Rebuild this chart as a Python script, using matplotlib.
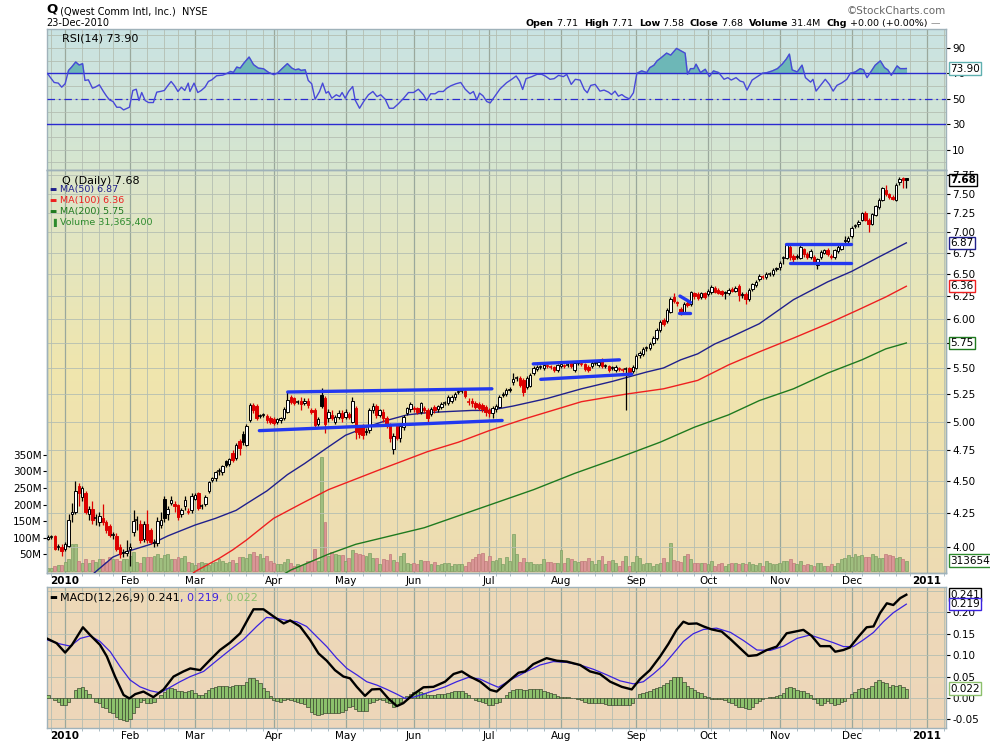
import numpy as np
import pandas as pd
import matplotlib
matplotlib.use("Agg")
import matplotlib.pyplot as plt
from matplotlib.ticker import NullLocator, FixedLocator

plt.rcParams['font.family'] = ['DejaVu Sans']

# ---------------- data ----------------
holidays = ["2009-12-25", "2010-01-01", "2010-01-18", "2010-02-15", "2010-04-02",
            "2010-05-31", "2010-07-05", "2010-09-06", "2010-11-25", "2010-12-24"]

opens = [4.06, 4.07, 4.08, 4.00, 4.00,
         3.99, 4.01, 4.24, 4.26, 4.46, 4.37, 4.40, 4.24, 4.28, 4.21, 4.18, 4.21, 4.18, 4.15, 4.09, 4.08, 4.00, 3.96, 3.96,
         3.99, 4.11, 4.20, 4.17, 4.06, 4.17, 4.12, 4.03, 4.03, 4.16, 4.36, 4.24, 4.33, 4.32, 4.31, 4.24, 4.30, 4.26, 4.27,
         4.36, 4.40, 4.30, 4.32, 4.42, 4.51, 4.52, 4.58, 4.57, 4.66, 4.64, 4.73, 4.69, 4.83, 4.89, 4.80, 5.01, 5.15, 5.14, 5.05, 5.06, 5.05, 5.03,
         5.02, 5.00, 5.01, 5.03, 5.09, 5.22, 5.21, 5.18, 5.19, 5.17, 5.19, 5.10, 5.10, 4.98, 5.24, 5.21, 5.03, 5.06, 5.00, 5.04, 5.08,
         5.04, 5.07, 5.00, 5.12, 4.95, 4.96, 4.91, 4.93, 5.10, 5.14, 5.06, 5.09, 5.03, 4.97, 4.76, 4.96, 4.86, 4.95, 5.08, 5.11,
         5.12, 5.12, 5.09, 5.12, 5.10, 5.07, 5.13, 5.11, 5.13, 5.17, 5.17, 5.19, 5.22, 5.27, 5.28, 5.28, 5.18, 5.19, 5.17, 5.16, 5.15, 5.13,
         5.10, 5.08, 5.11, 5.13, 5.24, 5.25, 5.29, 5.36, 5.40, 5.40, 5.38, 5.32, 5.33, 5.45, 5.49, 5.51, 5.50, 5.52, 5.51, 5.51, 5.48,
         5.52, 5.52, 5.53, 5.55, 5.48, 5.55, 5.54, 5.54, 5.51, 5.52, 5.55, 5.53, 5.58, 5.52, 5.52, 5.50, 5.48, 5.49, 5.48, 5.49, 5.50, 5.47,
         5.50, 5.63, 5.64, 5.70, 5.70, 5.75, 5.80, 5.88, 5.99, 5.98, 6.08, 6.24, 6.18, 6.11, 6.07, 6.17, 6.16, 6.28, 6.27, 6.24, 6.28,
         6.27, 6.29, 6.34, 6.32, 6.31, 6.29, 6.28, 6.33, 6.31, 6.36, 6.26, 6.27, 6.22, 6.33, 6.37, 6.44, 6.47, 6.46, 6.50, 6.50, 6.56,
         6.58, 6.69, 6.69, 6.82, 6.71, 6.70, 6.69, 6.79, 6.74, 6.70, 6.70, 6.60, 6.70, 6.75, 6.78, 6.71, 6.70, 6.77, 6.80, 6.89, 6.89,
         6.95, 7.08, 7.10, 7.16, 7.25, 7.16, 7.11, 7.22, 7.32, 7.42, 7.55, 7.49, 7.46, 7.41, 7.65, 7.71, 7.71]
highs = [4.09, 4.09, 4.09, 4.02, 4.02,
         4.04, 4.24, 4.33, 4.50, 4.48, 4.46, 4.42, 4.30, 4.34, 4.24, 4.26, 4.32, 4.20, 4.17, 4.11, 4.10, 4.02, 3.99, 4.05,
         4.03, 4.27, 4.23, 4.20, 4.19, 4.27, 4.14, 4.06, 4.22, 4.26, 4.38, 4.30, 4.38, 4.34, 4.32, 4.29, 4.38, 4.29, 4.40,
         4.40, 4.41, 4.32, 4.39, 4.50, 4.53, 4.58, 4.60, 4.63, 4.67, 4.69, 4.75, 4.81, 4.85, 4.92, 4.98, 5.17, 5.17, 5.16, 5.07, 5.08, 5.07, 5.05,
         5.04, 5.03, 5.04, 5.13, 5.27, 5.24, 5.22, 5.20, 5.22, 5.21, 5.21, 5.12, 5.12, 5.04, 5.31, 5.23, 5.11, 5.10, 5.06, 5.10, 5.10,
         5.11, 5.09, 5.22, 5.14, 4.97, 4.98, 4.94, 5.12, 5.17, 5.16, 5.11, 5.11, 5.05, 4.99, 4.90, 4.98, 4.98, 5.06, 5.13, 5.18,
         5.14, 5.13, 5.18, 5.14, 5.12, 5.13, 5.15, 5.15, 5.18, 5.19, 5.24, 5.24, 5.27, 5.29, 5.31, 5.30, 5.21, 5.21, 5.19, 5.18, 5.17, 5.15,
         5.12, 5.14, 5.16, 5.24, 5.27, 5.31, 5.32, 5.45, 5.42, 5.42, 5.40, 5.42, 5.45, 5.52, 5.53, 5.53, 5.55, 5.54, 5.53, 5.52, 5.54,
         5.56, 5.54, 5.55, 5.57, 5.57, 5.57, 5.56, 5.55, 5.53, 5.57, 5.57, 5.58, 5.60, 5.54, 5.53, 5.52, 5.53, 5.51, 5.50, 5.51, 5.51, 5.53,
         5.64, 5.67, 5.71, 5.72, 5.76, 5.82, 5.90, 5.99, 6.01, 6.12, 6.24, 6.28, 6.20, 6.13, 6.18, 6.19, 6.31, 6.30, 6.29, 6.30, 6.30,
         6.33, 6.37, 6.36, 6.34, 6.32, 6.31, 6.34, 6.35, 6.36, 6.38, 6.29, 6.29, 6.34, 6.40, 6.43, 6.50, 6.49, 6.52, 6.52, 6.57, 6.58,
         6.65, 6.71, 6.87, 6.84, 6.73, 6.73, 6.84, 6.81, 6.76, 6.79, 6.72, 6.69, 6.78, 6.80, 6.81, 6.73, 6.80, 6.84, 6.87, 6.96, 6.95,
         7.08, 7.10, 7.15, 7.26, 7.27, 7.18, 7.25, 7.35, 7.44, 7.59, 7.62, 7.51, 7.48, 7.64, 7.72, 7.72, 7.71]
lows = [4.05, 4.06, 3.98, 3.98, 3.94,
        3.97, 4.00, 4.18, 4.24, 4.30, 4.34, 4.24, 4.20, 4.17, 4.16, 4.15, 4.16, 4.10, 4.07, 4.06, 3.97, 3.92, 3.93, 3.94,
        3.87, 4.08, 4.12, 4.03, 4.04, 4.03, 4.02, 4.00, 4.01, 4.14, 4.18, 4.20, 4.31, 4.26, 4.20, 4.22, 4.27, 4.24, 4.25,
        4.35, 4.27, 4.28, 4.30, 4.40, 4.49, 4.50, 4.55, 4.55, 4.61, 4.62, 4.65, 4.67, 4.71, 4.80, 4.79, 5.00, 5.08, 5.01, 5.03, 5.04, 4.99, 4.98,
        4.97, 4.98, 4.99, 5.01, 5.08, 5.16, 5.15, 5.16, 5.10, 5.15, 5.12, 5.07, 4.95, 4.96, 5.12, 4.90, 5.00, 5.01, 4.98, 5.02, 5.00,
        5.02, 5.02, 4.99, 4.85, 4.86, 4.85, 4.88, 4.90, 5.08, 5.03, 5.04, 5.00, 4.94, 4.82, 4.72, 4.84, 4.82, 4.93, 5.06, 5.09,
        5.09, 5.07, 5.07, 5.08, 4.98, 5.05, 5.08, 5.09, 5.11, 5.15, 5.15, 5.17, 5.20, 5.25, 5.26, 5.21, 5.15, 5.13, 5.11, 5.10, 5.09, 5.05,
        5.04, 5.03, 5.09, 5.12, 5.22, 5.23, 5.27, 5.34, 5.37, 5.32, 5.23, 5.30, 5.32, 5.43, 5.47, 5.49, 5.48, 5.50, 5.49, 5.46, 5.46,
        5.50, 5.50, 5.51, 5.50, 5.46, 5.53, 5.52, 5.47, 5.46, 5.50, 5.53, 5.51, 5.50, 5.50, 5.46, 5.48, 5.46, 5.47, 5.46, 5.10, 5.44, 5.45,
        5.49, 5.60, 5.62, 5.67, 5.68, 5.73, 5.78, 5.86, 5.93, 5.96, 6.06, 6.17, 6.14, 6.04, 6.05, 6.13, 6.14, 6.22, 6.21, 6.22, 6.22,
        6.25, 6.27, 6.28, 6.27, 6.25, 6.22, 6.26, 6.29, 6.29, 6.20, 6.23, 6.16, 6.20, 6.31, 6.35, 6.42, 6.44, 6.44, 6.48, 6.48, 6.53,
        6.55, 6.62, 6.67, 6.66, 6.64, 6.67, 6.67, 6.70, 6.68, 6.68, 6.62, 6.56, 6.68, 6.73, 6.71, 6.68, 6.68, 6.75, 6.78, 6.86, 6.87,
        6.93, 7.05, 7.07, 7.14, 7.14, 7.01, 7.09, 7.20, 7.30, 7.40, 7.47, 7.43, 7.41, 7.40, 7.62, 7.58, 7.58]
closes = [4.07, 4.07, 3.99, 4.00, 3.97,
          4.02, 4.20, 4.26, 4.42, 4.40, 4.44, 4.26, 4.28, 4.20, 4.21, 4.23, 4.18, 4.12, 4.09, 4.09, 3.99, 3.95, 3.96, 3.97,
          4.00, 4.19, 4.20, 4.05, 4.17, 4.05, 4.04, 4.04, 4.19, 4.20, 4.21, 4.28, 4.35, 4.30, 4.22, 4.27, 4.35, 4.26, 4.38,
          4.39, 4.29, 4.30, 4.37, 4.49, 4.52, 4.57, 4.58, 4.62, 4.63, 4.68, 4.67, 4.80, 4.77, 4.82, 4.96, 5.15, 5.10, 5.03, 5.05, 5.06, 5.01, 5.00,
          4.99, 5.02, 5.03, 5.11, 5.20, 5.18, 5.17, 5.18, 5.16, 5.19, 5.15, 5.09, 4.97, 5.02, 5.14, 4.98, 5.09, 5.03, 5.04, 5.08, 5.03,
          5.09, 5.04, 5.19, 4.91, 4.89, 4.88, 4.92, 5.10, 5.14, 5.06, 5.10, 5.03, 4.96, 4.86, 4.87, 4.86, 4.96, 5.04, 5.12, 5.16,
          5.11, 5.09, 5.17, 5.10, 5.03, 5.11, 5.10, 5.14, 5.16, 5.17, 5.22, 5.22, 5.25, 5.27, 5.28, 5.23, 5.18, 5.17, 5.13, 5.12, 5.11, 5.09,
          5.08, 5.12, 5.14, 5.22, 5.25, 5.29, 5.30, 5.39, 5.40, 5.34, 5.27, 5.40, 5.43, 5.50, 5.51, 5.51, 5.53, 5.52, 5.51, 5.48, 5.53,
          5.54, 5.52, 5.53, 5.52, 5.55, 5.55, 5.54, 5.49, 5.48, 5.55, 5.55, 5.56, 5.52, 5.52, 5.48, 5.50, 5.51, 5.49, 5.48, 5.49, 5.46, 5.51,
          5.62, 5.65, 5.69, 5.70, 5.74, 5.80, 5.88, 5.97, 5.95, 6.10, 6.22, 6.19, 6.17, 6.06, 6.16, 6.15, 6.29, 6.25, 6.23, 6.28, 6.24,
          6.31, 6.35, 6.30, 6.28, 6.27, 6.28, 6.32, 6.31, 6.34, 6.26, 6.27, 6.22, 6.32, 6.39, 6.41, 6.48, 6.47, 6.50, 6.50, 6.55, 6.57,
          6.63, 6.69, 6.84, 6.70, 6.68, 6.71, 6.82, 6.73, 6.70, 6.77, 6.64, 6.67, 6.76, 6.78, 6.73, 6.70, 6.78, 6.82, 6.85, 6.90, 6.93,
          7.06, 7.08, 7.13, 7.24, 7.16, 7.11, 7.23, 7.33, 7.42, 7.57, 7.49, 7.45, 7.43, 7.62, 7.70, 7.68, 7.68]
volume_m = [9.5, 9.5, 14.5, 18.6, 19.6,
            28, 35, 80, 80, 30, 23, 37, 25, 33, 27, 37, 37, 27, 43, 37, 35, 30, 37, 35,
            45, 57, 27, 25, 43, 43, 43, 45, 50, 40, 47, 50, 35, 37, 43, 40, 45, 27, 23,
            19, 23, 27, 23, 17, 23, 27, 35, 30, 23, 27, 33, 25, 43, 43, 40, 50, 57, 45, 50, 40, 45, 30,
            25, 22, 20, 28, 35, 25, 15, 22, 18, 22, 30, 30, 65, 30, 343, 148, 45, 58, 50, 47, 47,
            30, 40, 62, 55, 52, 48, 44, 55, 40, 40, 22, 37, 33, 52, 33, 26, 46, 55, 24, 22,
            24, 20, 34, 31, 31, 20, 28, 19, 20, 24, 24, 16, 20, 22, 20, 16, 28, 35, 42, 50, 55, 30,
            46, 30, 32, 40, 22, 42, 30, 110, 52, 27, 40, 28, 26, 20, 20, 20, 36, 28, 26, 24, 24,
            62, 24, 40, 36, 30, 26, 30, 30, 40, 30, 20, 32, 44, 20, 31, 34, 25, 15, 30, 44, 15, 28,
            44, 40, 22, 25, 25, 14, 22, 25, 40, 28, 83, 34, 30, 28, 45, 52, 35, 25, 25, 25, 23,
            20, 30, 15, 20, 25, 15, 20, 25, 25, 20, 25, 20, 28, 20, 17, 25, 15, 30, 25, 20, 20,
            23, 30, 30, 35, 23, 20, 30, 17, 20, 17, 15, 25, 23, 15, 15, 20, 15, 25, 35, 40, 47,
            43, 50, 45, 47, 43, 43, 50, 45, 40, 40, 50, 47, 45, 40, 43, 37, 31.4]

# moving averages, read at (bar, price)
ma50_pts = [(7, 3.79), (9, 3.83), (14, 3.93), (17, 3.96), (25, 4.02), (30, 4.08), (33, 4.11), (38, 4.16), (44, 4.21),
            (50, 4.27), (53, 4.32), (56, 4.37), (59, 4.42), (65, 4.55), (70, 4.64), (76, 4.76), (82, 4.88), (88, 4.95),
            (94, 5.01), (100, 5.06), (106, 5.08), (112, 5.09), (119, 5.10), (124, 5.10), (131, 5.14), (141, 5.21),
            (151, 5.30), (160, 5.37), (170, 5.46), (175, 5.50), (180, 5.58), (185, 5.64), (190, 5.74), (194, 5.80),
            (203, 5.95), (213, 6.21), (223, 6.41), (230, 6.53), (238, 6.70), (246, 6.87)]
ma100_pts = [(36, 3.79), (38, 3.83), (45, 3.92), (49, 3.98), (53, 4.05), (59, 4.17), (61, 4.21), (69, 4.32), (77, 4.43),
             (92, 4.59), (106, 4.74), (115, 4.82), (124, 4.92), (135, 5.03), (151, 5.18), (164, 5.25), (175, 5.30),
             (185, 5.38), (194, 5.53), (203, 5.66), (213, 5.80), (223, 5.95), (232, 6.10), (240, 6.24), (246, 6.36)]
ma200_pts = [(63, 3.80), (66, 3.84), (77, 3.95), (85, 4.02), (105, 4.14), (124, 4.31), (137, 4.43), (149, 4.56),
             (162, 4.69), (174, 4.82), (184, 4.95), (194, 5.06), (203, 5.19), (213, 5.30), (223, 5.45), (233, 5.58),
             (240, 5.69), (246, 5.75)]

# hand drawn trendlines (bar, price) pairs
trend_lines = [[(65.1, 5.27), (124.8, 5.30)],
               [(56.8, 4.92), (127.8, 5.01)],
               [(136.9, 5.54), (162.1, 5.58)],
               [(139.1, 5.39), (165.7, 5.44)],
               [(179.8, 6.25), (182.9, 6.18)],
               [(179.6, 6.06), (182.6, 6.06)],
               [(210.8, 6.86), (229.7, 6.86)],
               [(212.0, 6.63), (229.7, 6.63)]]

rsi_pts = [(-5.2, 70.0), (-3.2, 62.9), (-2.0, 62.4), (-1.0, 59.2), (0.0, 61.9), (1.0, 72.4), (1.9, 75.0), (3.1, 79.0),
           (4.1, 76.6), (5.1, 77.7), (5.8, 64.5), (6.8, 65.0), (8.0, 58.4), (8.8, 59.2), (10.0, 61.1), (11.2, 55.8),
           (12.2, 51.8), (13.0, 49.2), (14.0, 47.9), (15.1, 43.4), (16.1, 43.4), (17.1, 41.3), (18.8, 43.4),
           (19.8, 56.6), (20.8, 57.6), (21.6, 48.7), (22.4, 55.0), (23.4, 48.7), (24.4, 47.1), (25.8, 47.1),
           (26.8, 55.3), (27.8, 55.8), (29.0, 56.6), (30.0, 60.3), (31.0, 63.7), (32.0, 60.3), (33.0, 55.8),
           (34.0, 59.2), (35.0, 56.6), (36.0, 62.4), (36.5, 55.8), (37.7, 62.4), (38.8, 55.0), (39.8, 56.6),
           (40.9, 59.2), (41.9, 63.7), (42.9, 65.0), (44.3, 68.2), (46.1, 68.7), (47.3, 70.0), (48.4, 71.6),
           (49.2, 70.8), (50.2, 75.0), (51.2, 74.2), (52.3, 78.2), (53.8, 82.9), (55.1, 76.9), (56.5, 74.2),
           (58.0, 73.7), (59.5, 70.8), (61.0, 69.0), (62.1, 70.3), (63.4, 73.7), (65.0, 77.7), (66.3, 74.2),
           (67.3, 72.9), (68.3, 73.5), (69.0, 72.4), (70.2, 72.9), (71.1, 64.5), (72.1, 61.9), (73.1, 49.7),
           (74.4, 55.8), (75.3, 62.4), (76.3, 54.5), (77.0, 55.8), (78.0, 50.5), (79.3, 53.2), (80.3, 51.8),
           (81.0, 55.0), (81.9, 50.5), (82.9, 55.8), (84.1, 59.7), (84.8, 49.2), (86.1, 42.6), (87.3, 47.9),
           (88.7, 53.2), (90.0, 55.8), (91.2, 51.8), (92.3, 53.2), (93.6, 49.7), (94.8, 42.6), (96.0, 42.6),
           (97.4, 46.0), (99.0, 50.5), (100.4, 55.0), (101.9, 55.0), (103.3, 57.6), (104.8, 53.2), (105.7, 48.7),
           (106.9, 54.0), (108.2, 54.0), (109.2, 55.8), (110.6, 55.8), (111.6, 58.4), (112.8, 60.3), (114.3, 61.9),
           (115.7, 62.9), (117.0, 57.6), (118.4, 54.0), (119.4, 55.8), (120.4, 49.2), (121.2, 54.5), (122.2, 52.4),
           (123.3, 47.9), (124.3, 46.8), (127.2, 57.9), (129.1, 62.7), (130.6, 65.4), (131.9, 68.0), (132.9, 64.0),
           (133.8, 57.4), (134.8, 65.9), (136.5, 67.5), (138.0, 69.3), (139.4, 69.3), (140.4, 68.0), (141.8, 65.4),
           (143.0, 65.9), (144.3, 68.5), (145.7, 67.5), (146.7, 69.3), (148.0, 61.4), (149.2, 65.4), (150.6, 64.8),
           (151.8, 57.4), (152.7, 54.8), (153.7, 60.6), (155.0, 61.4), (156.4, 56.1), (157.6, 56.9), (158.9, 55.3),
           (159.8, 53.4), (160.8, 56.1), (161.8, 52.1), (162.8, 53.4), (163.7, 51.6), (165.0, 50.0), (166.2, 54.8),
           (167.2, 70.1), (168.6, 72.0), (170.1, 70.7), (171.0, 74.6), (172.2, 76.5), (173.1, 79.9), (174.4, 82.6),
           (175.9, 86.0), (177.1, 84.4), (178.8, 89.7), (180.0, 87.9), (181.3, 86.0), (182.0, 69.3), (182.9, 73.8),
           (183.9, 73.8), (184.5, 77.3), (185.8, 70.7), (187.2, 73.3), (188.4, 67.5), (189.6, 72.0), (191.1, 70.7),
           (192.7, 65.4), (193.8, 66.7), (194.8, 64.8), (196.2, 66.7), (197.4, 64.0), (198.4, 63.2), (199.4, 56.9),
           (200.9, 64.8), (202.4, 67.5), (203.9, 70.1), (205.3, 70.7), (206.8, 72.0), (208.3, 73.8), (209.7, 77.3),
           (210.9, 81.3), (211.8, 85.2), (212.6, 72.8), (214.1, 71.2), (215.5, 76.5), (216.5, 66.7), (218.0, 63.2),
           (218.7, 65.4), (219.6, 56.1), (220.9, 60.6), (222.3, 65.4), (223.5, 61.4), (224.6, 56.1), (225.7, 60.6),
           (227.2, 62.7), (228.6, 65.4), (229.6, 70.1), (231.1, 71.2), (232.5, 73.8), (233.5, 72.8), (234.5, 66.7),
           (235.8, 72.0), (236.9, 76.5), (238.4, 79.9), (239.6, 74.6), (240.6, 72.8), (241.6, 68.5), (243.3, 75.9),
           (244.2, 73.8), (245.5, 73.8), (246.0, 73.9)]

macd_pts = [(-5.4, 0.139), (-2.5, 0.128), (0.0, 0.106), (2.0, 0.124), (5.2, 0.165), (7.3, 0.147), (10.2, 0.124),
            (12.2, 0.097), (14.6, 0.050), (17.1, 0.007), (18.8, -0.001), (20.5, 0.009), (22.9, 0.015), (25.8, 0.002),
            (28.8, 0.020), (31.7, 0.050), (34.6, 0.062), (36.6, 0.069), (39.5, 0.065), (42.4, 0.089), (45.3, 0.112),
            (48.2, 0.129), (51.2, 0.151), (53.6, 0.186), (55.1, 0.207), (58.0, 0.207), (61.0, 0.190), (63.9, 0.174),
            (65.8, 0.181), (68.7, 0.167), (71.6, 0.136), (74.1, 0.104), (76.5, 0.087), (78.9, 0.065), (81.4, 0.050),
            (83.3, 0.046), (85.3, 0.026), (87.7, 0.005), (89.7, 0.020), (92.1, 0.021), (94.5, -0.001), (97.0, -0.019),
            (98.9, -0.012), (101.9, 0.009), (104.8, 0.025), (107.7, 0.026), (111.1, 0.038), (113.6, 0.056),
            (116.0, 0.062), (118.4, 0.050), (121.4, 0.038), (124.3, 0.019), (126.2, 0.015), (130.1, 0.042),
            (132.6, 0.059), (134.5, 0.062), (136.9, 0.079), (140.8, 0.093), (143.8, 0.087), (146.7, 0.085),
            (150.6, 0.077), (153.5, 0.062), (156.4, 0.056), (159.4, 0.038), (162.8, 0.026), (165.7, 0.020),
            (168.1, 0.044), (171.0, 0.065), (174.0, 0.097), (176.4, 0.126), (178.8, 0.159), (180.8, 0.178),
            (182.3, 0.173), (184.7, 0.174), (186.7, 0.167), (189.1, 0.160), (192.0, 0.155), (194.6, 0.137),
            (197.4, 0.116), (199.8, 0.098), (202.3, 0.100), (205.2, 0.112), (208.1, 0.120), (211.0, 0.151),
            (213.5, 0.155), (215.9, 0.159), (218.3, 0.145), (220.8, 0.121), (223.7, 0.121), (225.2, 0.108),
            (227.6, 0.112), (229.5, 0.118), (232.0, 0.143), (234.4, 0.165), (236.4, 0.167), (238.3, 0.198),
            (240.3, 0.221), (242.2, 0.217), (244.2, 0.233), (246.0, 0.241)]
signal_pts = [(-5.4, 0.136), (-1.4, 0.126), (1.5, 0.121), (4.4, 0.139), (7.3, 0.145), (10.2, 0.132), (13.2, 0.108),
              (16.1, 0.073), (19.0, 0.042), (21.9, 0.026), (24.9, 0.017), (27.8, 0.012), (30.7, 0.025), (33.6, 0.038),
              (36.6, 0.050), (40.5, 0.062), (44.3, 0.087), (48.2, 0.112), (52.1, 0.136), (56.0, 0.167), (58.9, 0.188),
              (61.9, 0.186), (64.8, 0.181), (67.7, 0.178), (70.6, 0.167), (73.6, 0.143), (76.5, 0.120), (79.4, 0.093),
              (82.4, 0.069), (85.3, 0.054), (88.2, 0.038), (91.2, 0.030), (94.1, 0.020), (97.0, 0.009), (99.4, -0.001),
              (101.9, 0.002), (104.8, 0.009), (107.7, 0.017), (111.1, 0.026), (114.5, 0.038), (117.9, 0.048),
              (121.4, 0.044), (124.3, 0.033), (126.7, 0.025), (131.1, 0.046), (135.0, 0.062), (138.9, 0.077),
              (142.8, 0.085), (146.7, 0.083), (150.6, 0.077), (154.5, 0.067), (158.4, 0.054), (162.3, 0.040),
              (166.2, 0.033), (169.1, 0.038), (172.0, 0.056), (175.0, 0.077), (177.9, 0.104), (180.8, 0.132),
              (183.7, 0.150), (186.7, 0.160), (190.5, 0.163), (194.6, 0.153), (198.4, 0.134), (202.3, 0.112),
              (206.2, 0.111), (210.1, 0.121), (214.0, 0.139), (217.8, 0.147), (221.7, 0.137), (224.7, 0.129),
              (227.6, 0.120), (230.5, 0.120), (233.5, 0.136), (236.4, 0.153), (239.3, 0.178), (242.2, 0.199),
              (246.0, 0.219)]
macd_hist = [0.007, -0.001, -0.005, -0.009, -0.016,
             -0.016, -0.009, -0.001, 0.019, 0.023, 0.026, 0.019, 0.009, -0.001, -0.009,
             -0.012, -0.020, -0.024, -0.032, -0.036, -0.044, -0.048, -0.051, -0.053, -0.048,
             -0.036, -0.020, -0.009, -0.005, -0.011, -0.012, -0.009, -0.001, 0.007, 0.015,
             0.023, 0.023, 0.020, 0.017, 0.017, 0.015, 0.017, 0.019, 0.012, 0.007,
             0.007, 0.012, 0.019, 0.023, 0.026, 0.028, 0.028, 0.028, 0.026, 0.028,
             0.030, 0.030, 0.030, 0.038, 0.046, 0.046, 0.042, 0.034, 0.023, 0.017,
             0.005, -0.005, -0.006, -0.009, -0.005, -0.003, -0.005, -0.006, -0.009, -0.011,
             -0.014, -0.020, -0.032, -0.037, -0.040, -0.037, -0.034, -0.034, -0.034, -0.034,
             -0.034, -0.032, -0.028, -0.022, -0.019, -0.026, -0.030, -0.030, -0.030, -0.012,
             -0.009, -0.005, -0.003, -0.005, -0.009, -0.012, -0.022, -0.016, -0.009, -0.001,
             0.005, 0.009, 0.015, 0.017, 0.015, 0.012, 0.007, 0.007, 0.007, 0.009,
             0.009, 0.009, 0.012, 0.015, 0.017, 0.017, 0.017, 0.012, 0.007, -0.001,
             -0.005, -0.006, -0.009, -0.012, -0.016, -0.016, -0.012,
             -0.009, -0.001, 0.007, 0.015, 0.019, 0.020, 0.020, 0.019, 0.019, 0.020,
             0.020, 0.020, 0.020, 0.017, 0.015, 0.012, 0.009, 0.005, 0.003, 0.002,
             0.002, -0.001, -0.001, -0.002, -0.005, -0.009, -0.011, -0.011, -0.011, -0.012,
             -0.012, -0.014, -0.016, -0.016, -0.016, -0.016, -0.016, -0.016, -0.016, -0.011,
             -0.001, 0.009, 0.012, 0.015, 0.017, 0.020, 0.023, 0.026, 0.030, 0.036,
             0.042, 0.048, 0.048, 0.048, 0.038, 0.028, 0.023, 0.019, 0.015, 0.011,
             0.005, 0.002, -0.003, -0.003, -0.003, -0.003, -0.005, -0.009, -0.012, -0.016,
             -0.020, -0.022, -0.024, -0.026, -0.020, -0.012, -0.006, -0.002, -0.001, 0.002,
             0.003, 0.005, 0.007, 0.011, 0.023, 0.025, 0.023, 0.019, 0.017, 0.017,
             0.012, 0.007, -0.003, -0.012, -0.016, -0.011, -0.006, -0.011, -0.016, -0.014,
             -0.009, -0.006, -0.001, 0.009, 0.015, 0.020, 0.023, 0.020, 0.023, 0.028,
             0.038, 0.042, 0.038, 0.034, 0.025, 0.030, 0.028, 0.030, 0.026, 0.022]

price_ticks = [4.00, 4.25, 4.50, 4.75, 5.00, 5.25, 5.50, 5.75, 6.00, 6.25, 6.50, 6.75, 7.00, 7.25, 7.50, 7.75]
vol_ticks = [50, 100, 150, 200, 250, 300, 350]
rsi_ticks = [10, 30, 50, 70, 90]
macd_ticks = [-0.05, 0.00, 0.05, 0.10, 0.15, 0.20]

# ---------------- calendar ----------------
days = pd.bdate_range("2009-12-24", "2011-01-31", freq="C", holidays=holidays)
pos = np.arange(len(days)) - 5
month_x, month_lbl, week_x = [], [], []
for i in range(1, len(days)):
    if days[i].month != days[i - 1].month:
        month_x.append(pos[i])
        month_lbl.append(str(days[i].year) if days[i].month == 1 else days[i].strftime('%b'))
    if days[i].weekday() < days[i - 1].weekday():
        week_x.append(pos[i])

X0, X1 = -5.3, 257.6
RED = '#dd0000'
WK = '#b4beb2'
MO = '#9aa89c'
SPINE = '#9fb2ba'

fig = plt.figure(figsize=(9.9, 7.44), dpi=100)
L, W = 47 / 990, 899 / 990
ax_rsi = fig.add_axes([L, 1 - 170 / 744, W, 141 / 744])
ax_vol = fig.add_axes([L, 1 - 573 / 744, W, 403 / 744])
ax_macd = fig.add_axes([L, 1 - 728 / 744, W, 141 / 744])
ax_price = ax_vol.twinx()


def shade(ax, stops):
    y = np.linspace(0, 1, 200)
    fr = [s[0] for s in stops]
    cols = np.stack([np.interp(y, fr, [s[1][k] for s in stops]) for k in range(3)], axis=1)
    ax.imshow(cols[:, None, :], extent=(0, 1, 0, 1), transform=ax.transAxes, origin='lower',
              aspect='auto', zorder=0, interpolation='bilinear')


def vgrid(ax):
    for w in week_x:
        ax.axvline(w, color=WK, lw=0.6, zorder=1)
    for m in month_x:
        ax.axvline(m, color=MO, lw=0.9, zorder=1)


def style(ax):
    for s in ax.spines.values():
        s.set_color(SPINE)
        s.set_linewidth(1.0)


shade(ax_rsi, [(0, (0.84, 0.90, 0.81)), (1, (0.79, 0.89, 0.89))])
shade(ax_vol, [(0, (0.93, 0.86, 0.70)), (0.5, (0.94, 0.90, 0.68)), (1, (0.86, 0.90, 0.80))])
shade(ax_macd, [(0, (0.93, 0.84, 0.73)), (1, (0.93, 0.85, 0.72))])

# ---------------- RSI ----------------
vgrid(ax_rsi)
for h in range(0, 101, 10):
    ax_rsi.axhline(h, color=WK, lw=0.6, zorder=1)
rx = np.array([p[0] for p in rsi_pts])
rv = np.array([p[1] for p in rsi_pts])
ax_rsi.fill_between(rx, rv, 70, where=rv > 70, interpolate=True, color='#6db7b7', zorder=2)
ax_rsi.axhline(70, color='#2a2ad0', lw=1.0, zorder=3)
ax_rsi.axhline(30, color='#2a2ad0', lw=1.0, zorder=3)
ax_rsi.axhline(50, color='#2a2ad0', lw=0.9, ls=(0, (6, 3, 1.5, 3)), zorder=3)
ax_rsi.plot(rx, rv, color='#4848d8', lw=1.0, zorder=4)
ax_rsi.set_xlim(X0, X1)
ax_rsi.set_ylim(-6, 105)
ax_rsi.set_xticks([])
ax_rsi.yaxis.tick_right()
ax_rsi.set_yticks(rsi_ticks)
ax_rsi.tick_params(axis='y', length=3, pad=1.5, labelsize=7.5, colors='black')
ax_rsi.text(0.017, 0.965, 'RSI(14) 73.90', transform=ax_rsi.transAxes, fontsize=8, va='top', ha='left')
style(ax_rsi)

# ---------------- price + volume ----------------
x = pos[:len(closes)]
o, h, lo, c = map(np.array, (opens, highs, lows, closes))
prev = np.r_[o[0], c[:-1]]
up = c >= prev
col = np.where(up, 'black', RED)

vgrid(ax_vol)
vx = x[:len(volume_m)]
vup = up[:len(volume_m)]
ax_vol.bar(vx, np.array(volume_m) * 1e6, width=0.85,
           color=np.where(vup, '#9fbe7f', '#d99696'),
           edgecolor=np.where(vup, '#7e9e62', '#c07a7a'), linewidth=0.5, zorder=3)
ax_vol.set_xlim(X0, X1)
ax_vol.set_ylim(-6e6, 1208e6)
ax_vol.set_yticks([v * 1e6 for v in vol_ticks])
ax_vol.set_yticklabels(['%dM' % v for v in vol_ticks])
ax_vol.tick_params(axis='y', length=3, pad=1, labelsize=7.5, colors='black')

ax_price.set_yscale('log')
ax_price.set_ylim(3.82, 7.82)
for pt in price_ticks:
    ax_price.axhline(pt, color=WK, lw=0.6, zorder=1)
for pts, colr in ((ma200_pts, '#1f7a1f'), (ma100_pts, '#ee2020'), (ma50_pts, '#20208c')):
    ax_price.plot([p[0] for p in pts], [p[1] for p in pts], color=colr, lw=1.0, zorder=3)

ax_price.vlines(x, lo, h, colors=col, lw=0.9, zorder=5)
body_lo = np.minimum(o, c)
body_h = np.abs(c - o)
doji = body_h < 0.006
fill = np.where(c > o, 'white', col)
ax_price.bar(x[~doji], body_h[~doji], bottom=body_lo[~doji], width=0.72,
             color=fill[~doji], edgecolor=col[~doji], linewidth=0.7, zorder=6)
ax_price.hlines(c[doji], x[doji] - 0.45, x[doji] + 0.45, colors=col[doji], lw=1.1, zorder=6)

for seg in trend_lines:
    ax_price.plot([seg[0][0], seg[1][0]], [seg[0][1], seg[1][1]], color='#2238f0', lw=2.4,
                  solid_capstyle='round', zorder=7)

ax_price.yaxis.set_major_locator(FixedLocator(price_ticks))
ax_price.yaxis.set_minor_locator(NullLocator())
# the 5.75 label sits fully under the MA(200) value tag in the reference
ax_price.set_yticklabels(['' if v == 5.75 else '%.2f' % v for v in price_ticks])
ax_price.tick_params(axis='y', length=3, pad=1.5, labelsize=7.5, colors='black')

ax_vol.set_xticks(month_x)
ax_vol.set_xticklabels(month_lbl)
ax_vol.xaxis.set_minor_locator(FixedLocator(week_x))
ax_vol.tick_params(axis='x', which='major', length=0, pad=2, labelsize=7.5)
ax_vol.tick_params(axis='x', which='minor', length=2, color=SPINE, direction='out')

ax_price.text(0.017, 0.985, 'Q (Daily) 7.68', transform=ax_price.transAxes, fontsize=8, va='top', ha='left')
legend_rows = [('MA(50) 6.87', '#20208c'), ('MA(100) 6.36', '#ee2020'),
               ('MA(200) 5.75', '#1f7a1f'), ('Volume 31,365,400', '#2e8b2e')]
for k, (s, colr) in enumerate(legend_rows):
    ax_price.text(0.003, 0.952 - k * 0.0272, '\u25ac' if k < 3 else '\u2590', transform=ax_price.transAxes,
                  fontsize=5.5, va='center', ha='left', color=colr)
    ax_price.text(0.0145, 0.952 - k * 0.0272, s, transform=ax_price.transAxes, fontsize=6.8,
                  va='center', ha='left', color=colr)
style(ax_vol)
style(ax_price)

# ---------------- MACD ----------------
vgrid(ax_macd)
for hv in np.arange(-0.05, 0.26, 0.05):
    ax_macd.axhline(hv, color=WK, lw=0.6, zorder=1)
hx = x[:len(macd_hist)]
ax_macd.bar(hx, macd_hist, width=1.0, color='#8cc06c', edgecolor='#3c4a30', linewidth=0.5, zorder=3)
ax_macd.plot([p[0] for p in signal_pts], [p[1] for p in signal_pts], color='#3a22e0', lw=0.9, zorder=4)
ax_macd.plot([p[0] for p in macd_pts], [p[1] for p in macd_pts], color='black', lw=1.7, zorder=5)
ax_macd.set_xlim(X0, X1)
ax_macd.set_ylim(-0.070, 0.259)
ax_macd.yaxis.tick_right()
ax_macd.set_yticks(macd_ticks)
ax_macd.set_yticklabels(['%.2f' % v for v in macd_ticks])
ax_macd.tick_params(axis='y', length=3, pad=1.5, labelsize=7.5, colors='black')
ax_macd.set_xticks(month_x)
ax_macd.set_xticklabels(month_lbl)
ax_macd.xaxis.set_minor_locator(FixedLocator(week_x))
ax_macd.tick_params(axis='x', which='major', length=0, pad=2, labelsize=7.5)
ax_macd.tick_params(axis='x', which='minor', length=2, color=SPINE, direction='out')
style(ax_macd)

for ax in (ax_vol, ax_macd):
    for t in ax.get_xticklabels():
        if t.get_text().isdigit():
            t.set_fontweight('bold')

t = ax_macd.text(0.003, 0.955, '\u25ac ', transform=ax_macd.transAxes, fontsize=6, va='top', ha='left')
t = ax_macd.annotate('MACD(12,26,9) 0.241', xy=(1, 0.5), xycoords=t, va='center', ha='left', fontsize=8)
t = ax_macd.annotate(', 0.219', xy=(1, 0), xycoords=t, va='bottom', ha='left', fontsize=8, color='#3a22e0')
t = ax_macd.annotate(', 0.022', xy=(1, 0), xycoords=t, va='bottom', ha='left', fontsize=8, color='#8cc06c')


# ---------------- value tags on the right ----------------
def tag(ax, val, txt, edge, bold=False):
    ax.annotate(txt, xy=(1.0, val), xycoords=('axes fraction', 'data'), xytext=(3, 0),
                textcoords='offset points', va='center', ha='left', fontsize=7.5,
                fontweight='bold' if bold else 'normal', annotation_clip=False, zorder=10,
                bbox=dict(boxstyle='square,pad=0.12', fc='white', ec=edge, lw=1.0))


tag(ax_rsi, 73.9, '73.90', '#5fb0b0')
tag(ax_price, 7.68, '7.68', 'black', bold=True)
tag(ax_price, 6.87, '6.87', '#20208c')
tag(ax_price, 6.36, '6.36', '#ee2020')
tag(ax_price, 5.75, '5.75', '#1f7a1f')
tag(ax_vol, 31.4e6, '31365400', '#2e8b2e')
tag(ax_macd, 0.241, '0.241', 'black')
tag(ax_macd, 0.219, '0.219', '#3a22e0')
tag(ax_macd, 0.022, '0.022', '#8cc06c')

# ---------------- header ----------------
def fx(px):
    return px / 990


def fy(py):
    return 1 - py / 744


t = fig.text(fx(46), fy(16), 'Q', fontsize=9.5, fontweight='bold', va='bottom', ha='left')
t = ax_rsi.annotate(' (Qwest Comm Intl, Inc.)  NYSE', xy=(1, 0), xycoords=t, va='bottom', ha='left', fontsize=7)
fig.text(fx(46), fy(23), '23-Dec-2010', fontsize=7, va='center', ha='left')
fig.text(fx(946), fy(11), '\u00a9StockCharts.com', fontsize=7.5, va='center', ha='right', color='#666666')

hdr = [('Open', 'bold'), (' 7.71  ', 'normal'), ('High', 'bold'), (' 7.71  ', 'normal'),
       ('Low', 'bold'), (' 7.58  ', 'normal'), ('Close', 'bold'), (' 7.68  ', 'normal'),
       ('Volume', 'bold'), (' 31.4M  ', 'normal'), ('Chg', 'bold'), (' +0.00 (+0.00%) ', 'normal')]
t = fig.text(fx(526), fy(28), hdr[0][0], fontsize=6.8, fontweight=hdr[0][1], va='bottom', ha='left')
for s, wt in hdr[1:]:
    t = ax_rsi.annotate(s, xy=(1, 0), xycoords=t, va='bottom', ha='left', fontsize=6.8, fontweight=wt)
ax_rsi.annotate('\u2014', xy=(1, 0), xycoords=t, va='bottom', ha='left', fontsize=6.8, color='#888888')

fig.savefig('out.png', dpi=100)
